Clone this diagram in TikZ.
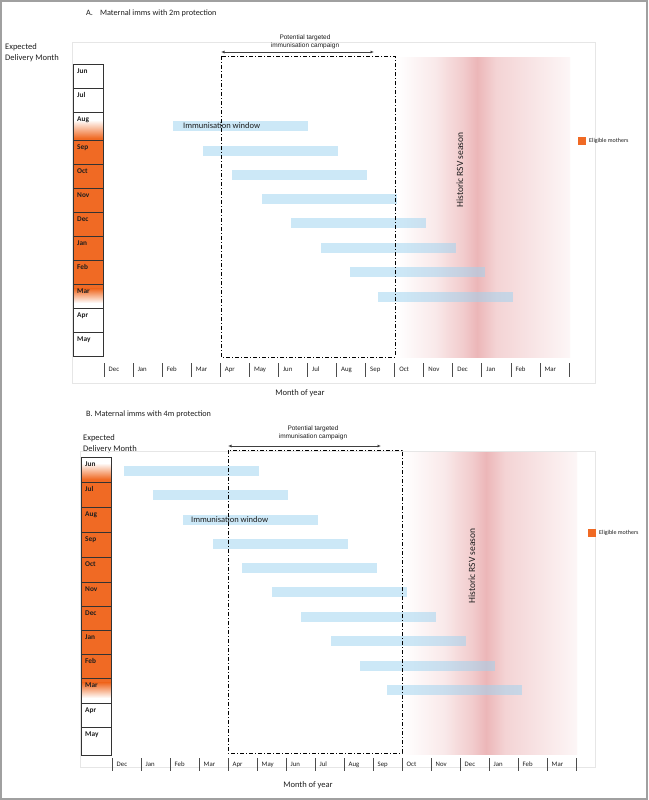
\documentclass[tikz,border=0pt]{standalone}
\usepackage{fontspec}
\setmainfont{Carlito}
\newfontfamily\arialf{Liberation Sans}
\usetikzlibrary{arrows.meta}
\definecolor{orng}{RGB}{240,106,36}
\definecolor{barblue}{RGB}{155,211,241}
\definecolor{rsv}{RGB}{236,182,184}
\definecolor{framegray}{RGB}{230,230,230}
\definecolor{outergray}{RGB}{160,160,160}
\definecolor{txt}{RGB}{30,30,30}
\tikzset{
  titletxt/.style={anchor=west, inner sep=0, font=\fontsize{8.2}{10}\selectfont, text=txt},
  ylab/.style={anchor=north west, inner sep=0, align=left, font=\fontsize{8.5}{11}\selectfont, text=txt},
  celllab/.style={anchor=north west, inner sep=0, text height=5.5pt, text depth=1.5pt, font=\fontsize{7.3}{8}\selectfont\bfseries, text=txt},
  ticklab/.style={anchor=west, inner sep=0, text height=5pt, text depth=1.5pt, font=\fontsize{6.8}{7}\selectfont, text=txt},
  axlab/.style={anchor=center, inner sep=0, font=\fontsize{8.5}{9}\selectfont, text=txt},
  winlab/.style={anchor=west, inner sep=0, font=\fontsize{8.5}{9}\selectfont, text=txt},
  rsvlab/.style={anchor=center, inner sep=0, rotate=90, font=\fontsize{9.5}{10}\selectfont, text=txt},
  camplab/.style={anchor=center, inner sep=0, align=center, font=\arialf\fontsize{6.5}{8}\selectfont, text=txt},
  leglab/.style={anchor=west, inner sep=0, font=\fontsize{6}{6}\selectfont, text=txt},
  cellbox/.style={draw=black!80, line width=0.6},
  winbar/.style={fill=barblue, fill opacity=0.5, draw=none},
  campbox/.style={draw=black, line width=0.8, dash pattern=on 4pt off 2pt on 1pt off 2pt},
  camparrow/.style={draw=black!75, line width=0.7, {Latex[length=3.5pt,width=3pt]}-{Latex[length=3.5pt,width=3pt]}},
  axtick/.style={draw=black!70, line width=0.6},
  panelframe/.style={draw=framegray, line width=0.6},
}
% RSV season gradient: #1 left x, #2 peak x, #3 right x, #4 top y, #5 bottom y
\newcommand\myrsv[5]{%
  \shade[left color=white, right color=rsv!30] (#1,#4) rectangle ({#2-45},#5);
  \shade[left color=rsv!30, right color=rsv!72] ({#2-45},#4) rectangle ({#2-16},#5);
  \shade[left color=rsv!72, right color=rsv] ({#2-16},#4) rectangle ({#2-3},#5);
  \shade[left color=rsv, right color=rsv!60] ({#2-3},#4) rectangle ({#2+16},#5);
  \shade[left color=rsv!60, right color=rsv!12] ({#2+16},#4) rectangle (#3,#5);
}
\begin{document}
\begin{tikzpicture}[x=1pt,y=-1pt]
\useasboundingbox (0,0) rectangle (648,800);
\fill[white] (0,0) rectangle (648,800);
\draw[outergray, line width=1.2] (1,1) rectangle (647,799);

%%%%%%%%%%%%%%%% PANEL A
\node[titletxt] (atitle) at (86,13) {A.\hspace{7pt}Maternal imms with 2m protection};
\node[ylab] (aylab) at (5,43) {Expected\\Delivery Month};
\draw[panelframe] (72,42) rectangle (595,383);
\myrsv{397}{480}{570}{58}{357}
% bars
\foreach \s/\y in {173/126,203/151,232/175,262/199,291/223,321/248,350/272,378/297}{
  \fill[winbar] (\s,\y-5) rectangle (\s+135,\y+5);
}
\node[winlab] (awin) at (183,126) {Immunisation window};
\node[rsvlab] (arsv) at (460,170) {Historic RSV season};
% campaign
\draw[campbox] (221,56) rectangle (395,357);
\coordinate (aarL) at (221,52);
\coordinate (aarR) at (374,52);
\draw[camparrow] (aarL) -- (aarR);
\node[camplab] (acamp) at (305,42) {Potential targeted\\immunisation campaign};
% delivery month column
\fill[white] (73,64) rectangle (103,356);
\fill[orng] (73,138) rectangle (103,289);
\shade[top color=white, bottom color=orng] (73,120) rectangle (103,138.2);
\shade[top color=orng, bottom color=white] (73,288.8) rectangle (103,303);
\foreach \t/\b/\m [count=\i] in {64/88/Jun,88/112/Jul,112/140/Aug,140/164/Sep,164/188/Oct,188/212/Nov,212/236/Dec,236/260/Jan,260/284/Feb,284/308/Mar,308/332/Apr,332/356/May}{
  \draw[cellbox] (73,\t) rectangle (103,\b);
  \node[celllab] (acell\i) at (77,\t+3.5) {\m};
}
% axis
\foreach \m [count=\i from 0] in {Dec,Jan,Feb,Mar,Apr,May,Jun,Jul,Aug,Sep,Oct,Nov,Dec,Jan,Feb,Mar}{
  \draw[axtick] (104+29.06*\i,363) -- (104+29.06*\i,377);
  \node[ticklab] (atick\i) at (108.5+29.06*\i,370) {\m};
}
\draw[axtick] (104+29.06*16,363) -- (104+29.06*16,377);
\node[axlab] (aaxis) at (300,393) {Month of year};
% legend
\fill[orng] (578,137) rectangle (586,145);
\node[leglab] (aleg) at (589,141) {Eligible mothers};

%%%%%%%%%%%%%%%% PANEL B
\node[titletxt] (btitle) at (86,414) {B. Maternal imms with 4m protection};
\node[ylab] (bylab) at (83,434) {Expected\\Delivery Month};
\draw[panelframe] (80,451) rectangle (595,767);
\myrsv{403}{489}{577}{452}{754}
\foreach \s/\y in {124/471,153/495,183/520,213/544,242/568,272/592,301/617,331/641,360/666,387/690}{
  \fill[winbar] (\s,\y-5) rectangle (\s+135,\y+5);
}
\node[winlab] (bwin) at (191,520) {Immunisation window};
\node[rsvlab] (brsv) at (472,566) {Historic RSV season};
\draw[campbox] (228,450) rectangle (402,753);
\coordinate (barL) at (228,446);
\coordinate (barR) at (381,446);
\draw[camparrow] (barL) -- (barR);
\node[camplab] (bcamp) at (313,433) {Potential targeted\\immunisation campaign};
\fill[white] (81,457) rectangle (111,755);
\fill[orng] (81,479) rectangle (111,683);
\shade[top color=white, bottom color=orng] (81,463) rectangle (111,479.2);
\shade[top color=orng, bottom color=white] (81,682.8) rectangle (111,698);
\foreach \t/\b/\m [count=\i] in {457/482/Jun,482/507/Jul,507/532/Aug,532/557/Sep,557/582/Oct,582/606/Nov,606/630/Dec,630/654/Jan,654/678/Feb,678/703/Mar,703/727/Apr,727/755/May}{
  \draw[cellbox] (81,\t) rectangle (111,\b);
  \node[celllab] (bcell\i) at (85,\t+3.5) {\m};
}
\foreach \m [count=\i from 0] in {Dec,Jan,Feb,Mar,Apr,May,Jun,Jul,Aug,Sep,Oct,Nov,Dec,Jan,Feb,Mar}{
  \draw[axtick] (112+29*\i,758) -- (112+29*\i,771);
  \node[ticklab] (btick\i) at (116.5+29*\i,765) {\m};
}
\draw[axtick] (112+29*16,758) -- (112+29*16,771);
\node[axlab] (baxis) at (308,785) {Month of year};
\fill[orng] (588,529) rectangle (596,537);
\node[leglab] (bleg) at (599,533) {Eligible mothers};
\end{tikzpicture}
\end{document}
